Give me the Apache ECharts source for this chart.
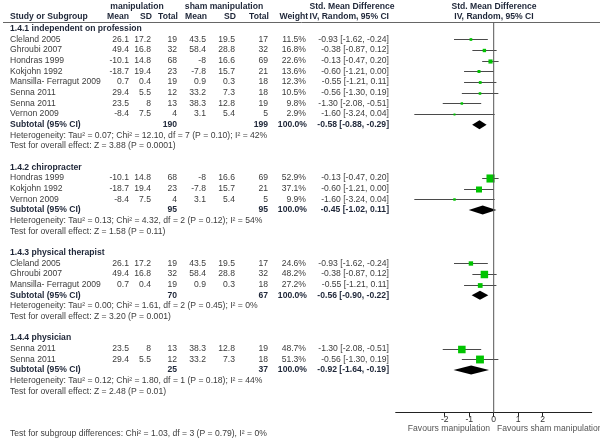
<!DOCTYPE html>
<html><head><meta charset="utf-8">
<script src="https://cdn.jsdelivr.net/npm/echarts@6/dist/echarts.min.js"></script>
<style>html,body{margin:0;padding:0;background:#fff}#c{width:600px;height:444px}</style>
</head><body><div id="c"></div><script>
// ---------------- data ----------------
const sections = ["1.4.1 independent on profession", "1.4.2 chiropracter", "1.4.3 physical therapist", "1.4.4 physician"];
const studyNames = ["Cleland 2005","Ghroubi 2007","Hondras 1999","Kokjohn 1992","Mansilla- Ferragut 2009","Senna 2011","Senna 2011","Vernon 2009",
                    "Hondras 1999","Kokjohn 1992","Vernon 2009",
                    "Cleland 2005","Ghroubi 2007","Mansilla- Ferragut 2009",
                    "Senna 2011","Senna 2011"];
const studySection = [0,0,0,0,0,0,0,0,1,1,1,2,2,2,3,3];
const manipMean = [26.1,49.4,-10.1,-18.7,0.7,29.4,23.5,-8.4,-10.1,-18.7,-8.4,26.1,49.4,0.7,23.5,29.4];
const manipSD   = [17.2,16.8,14.8,19.4,0.4,5.5,8,7.5,14.8,19.4,7.5,17.2,16.8,0.4,8,5.5];
const manipN    = [19,32,68,23,19,12,13,4,68,23,4,19,32,19,13,12];
const shamMean  = [43.5,58.4,-8,-7.8,0.9,33.2,38.3,3.1,-8,-7.8,3.1,43.5,58.4,0.9,38.3,33.2];
const shamSD    = [19.5,28.8,16.6,15.7,0.3,7.3,12.8,5.4,16.6,15.7,5.4,19.5,28.8,0.3,12.8,7.3];
const shamN     = [17,32,69,21,18,18,19,5,69,21,5,17,32,18,19,18];
const weight    = [11.5,16.8,22.6,13.6,12.3,10.5,9.8,2.9,52.9,37.1,9.9,24.6,48.2,27.2,48.7,51.3];
const smd       = [-0.93,-0.38,-0.13,-0.60,-0.55,-0.56,-1.30,-1.60,-0.13,-0.60,-1.60,-0.93,-0.38,-0.55,-1.30,-0.56];
const ciLow     = [-1.62,-0.87,-0.47,-1.21,-1.21,-1.30,-2.08,-3.24,-0.47,-1.21,-3.24,-1.62,-0.87,-1.21,-2.08,-1.30];
const ciHigh    = [-0.24,0.12,0.20,0.00,0.11,0.19,-0.51,0.04,0.20,0.00,0.04,-0.24,0.12,0.11,-0.51,0.19];

const subManipN = [190,95,70,25];
const subShamN  = [199,95,67,37];
const subSmd    = [-0.58,-0.45,-0.56,-0.92];
const subLow    = [-0.88,-1.02,-0.90,-1.64];
const subHigh   = [-0.29,0.11,-0.22,-0.19];
const hetTau2   = [0.07,0.13,0.00,0.12];
const hetChi2   = [12.10,4.32,1.61,1.80];
const hetDf     = [7,2,2,1];
const hetP      = [0.10,0.12,0.45,0.18];
const hetI2     = [42,54,0,44];
const testZ     = [3.88,1.58,3.20,2.48];
const testP     = ["0.0001","0.11","0.001","0.01"];
const subgroupTest = {chi2: 1.03, df: 3, p: 0.79, i2: 0};
const tickValues = [-2,-1,0,1,2];

// ---------------- layout ----------------
const ROW0 = 28.6, PITCH = 10.67;
const YMIN = -ROW0 / PITCH;
const FONT = "Liberation Sans, Arial, sans-serif";
const FS = 8.6;
const C_TXT = '#3c3c3c', C_BOLD = '#1e2638';

// compute row indices
const secRows = [], studyRows = [], subRows = [];
let row = 0, k = 0;
for (let s = 0; s < sections.length; s++) {
  secRows.push(row); row++;
  while (k < studySection.length && studySection[k] === s) { studyRows.push(row); row++; k++; }
  subRows.push(row); row += 4;
}
const lastSub = subRows[subRows.length - 1];
const AXIS_ROW = lastSub + 4;
const SUBTEST_ROW = lastSub + 6;
const HEAD1_ROW = -2.05, HEAD2_ROW = -1.1, HLINE_ROW = -0.55;

const COL = {name:10, mMean:129, mSD:151, mN:177, sMean:206, sSD:235, sN:268, w:306, ci:389};

const texts = [];
function T(x, r, text, align, bold, color) {
  texts.push({x, r, text, align: align || 'right', bold: !!bold, color: color || (bold ? C_BOLD : C_TXT)});
}
// headers
T(137, HEAD1_ROW, 'manipulation', 'center', true);
T(224, HEAD1_ROW, 'sham manipulation', 'center', true);
T(352, HEAD1_ROW, 'Std. Mean Difference', 'center', true);
T(494, HEAD1_ROW, 'Std. Mean Difference', 'center', true);
T(COL.name, HEAD2_ROW, 'Study or Subgroup', 'left', true);
T(COL.mMean, HEAD2_ROW, 'Mean', 'right', true);
T(COL.mSD + 1, HEAD2_ROW, 'SD', 'right', true);
T(COL.mN + 1, HEAD2_ROW, 'Total', 'right', true);
T(COL.sMean + 1, HEAD2_ROW, 'Mean', 'right', true);
T(COL.sSD + 1, HEAD2_ROW, 'SD', 'right', true);
T(COL.sN + 1, HEAD2_ROW, 'Total', 'right', true);
T(COL.w + 2, HEAD2_ROW, 'Weight', 'right', true);
T(COL.ci, HEAD2_ROW, 'IV, Random, 95% CI', 'right', true);
T(494, HEAD2_ROW, 'IV, Random, 95% CI', 'center', true);

const fmtCI = (m, l, h) => m.toFixed(2) + ' [' + l.toFixed(2) + ', ' + h.toFixed(2) + ']';
for (let s = 0; s < sections.length; s++) {
  T(COL.name, secRows[s], sections[s], 'left', true);
  const sr = subRows[s];
  T(COL.name, sr, 'Subtotal (95% CI)', 'left', true);
  T(COL.mN, sr, String(subManipN[s]), 'right', true);
  T(COL.sN, sr, String(subShamN[s]), 'right', true);
  T(COL.w + 1, sr, '100.0%', 'right', true);
  T(COL.ci, sr, fmtCI(subSmd[s], subLow[s], subHigh[s]), 'right', true);
  T(COL.name, sr + 1, 'Heterogeneity: Tau\u00b2 = ' + hetTau2[s].toFixed(2) + '; Chi\u00b2 = ' + hetChi2[s].toFixed(2) +
    ', df = ' + hetDf[s] + ' (P = ' + hetP[s].toFixed(2) + '); I\u00b2 = ' + hetI2[s] + '%', 'left');
  T(COL.name, sr + 2, 'Test for overall effect: Z = ' + testZ[s].toFixed(2) + ' (P = ' + testP[s] + ')', 'left');
}
for (let i = 0; i < studyNames.length; i++) {
  const r = studyRows[i];
  T(COL.name, r, studyNames[i], 'left');
  T(COL.mMean, r, String(manipMean[i]));
  T(COL.mSD, r, String(manipSD[i]));
  T(COL.mN, r, String(manipN[i]));
  T(COL.sMean, r, String(shamMean[i]));
  T(COL.sSD, r, String(shamSD[i]));
  T(COL.sN, r, String(shamN[i]));
  T(COL.w, r, weight[i].toFixed(1) + '%');
  T(COL.ci, r, fmtCI(smd[i], ciLow[i], ciHigh[i]));
}
T(COL.name, SUBTEST_ROW, 'Test for subgroup differences: Chi\u00b2 = ' + subgroupTest.chi2.toFixed(2) + ', df = ' + subgroupTest.df +
  ' (P = ' + subgroupTest.p.toFixed(2) + '), I\u00b2 = ' + subgroupTest.i2 + '%', 'left');

const FOREST_LEFT = 395.7, FOREST_W = 196;
const forestH = ROW0 + AXIS_ROW * PITCH;

const chart = echarts.init(document.getElementById('c'), null, {renderer: 'canvas'});
chart.setOption({
  animation: false,
  backgroundColor: '#fff',
  grid: [
    {left: 0, top: 0, width: 600, height: 444},
    {left: FOREST_LEFT, top: 0, width: FOREST_W, height: forestH}
  ],
  xAxis: [
    {gridIndex: 0, type: 'value', min: 0, max: 600, show: false},
    {gridIndex: 1, type: 'value', min: -4, max: 4, interval: 1,
     splitLine: {show: false},
     axisLine: {show: true, onZero: false, lineStyle: {color: '#222', width: 1}},
     axisTick: {show: true, customValues: tickValues, length: 4, lineStyle: {color: '#222'}},
     axisLabel: {show: true, customValues: tickValues, margin: 2, color: '#333', fontSize: FS, fontFamily: FONT}}
  ],
  yAxis: [
    {gridIndex: 0, type: 'value', inverse: true, min: YMIN, max: (444 - ROW0) / PITCH, show: false},
    {gridIndex: 1, type: 'value', inverse: true, min: YMIN, max: AXIS_ROW, show: false}
  ],
  graphic: [
    {type: 'line', shape: {x1: 3, y1: 22.5, x2: 600, y2: 22.5}, style: {stroke: '#666', lineWidth: 1}, silent: true},
    {type: 'text', x: 490, y: 429, style: {text: 'Favours manipulation', align: 'right', verticalAlign: 'middle', fill: '#555', font: FS + 'px ' + FONT}},
    {type: 'text', x: 497, y: 429, style: {text: 'Favours sham manipulation', align: 'left', verticalAlign: 'middle', fill: '#555', font: FS + 'px ' + FONT}}
  ],
  series: [
    { // table text
      type: 'custom', xAxisIndex: 0, yAxisIndex: 0, silent: true,
      data: texts.map(t => [t.x, t.r]),
      encode: {x: 0, y: 1},
      renderItem(params, api) {
        const t = texts[params.dataIndex];
        const p = api.coord([api.value(0), api.value(1)]);
        return {type: 'text', x: p[0], y: p[1], style: {
          text: t.text, align: t.align, verticalAlign: 'middle', fill: t.color,
          font: (t.bold ? 'bold ' : '') + FS + 'px ' + FONT}};
      }
    },
    { // null line
      type: 'line', xAxisIndex: 1, yAxisIndex: 1, silent: true, symbol: 'none',
      data: [[0, HLINE_ROW], [0, AXIS_ROW]],
      lineStyle: {color: '#555', width: 1}
    },
    { // study CIs and squares
      type: 'custom', xAxisIndex: 1, yAxisIndex: 1, silent: true,
      data: smd.map((m, i) => [m, studyRows[i], ciLow[i], ciHigh[i], weight[i]]),
      encode: {x: 0, y: 1},
      renderItem(params, api) {
        const c = api.coord([api.value(0), api.value(1)]);
        const l = api.coord([api.value(2), api.value(1)]);
        const h = api.coord([api.value(3), api.value(1)]);
        const s = Math.max(2, 1.2 + 0.13 * api.value(4));
        const y = Math.round(c[1]) + 0.5;
        return {type: 'group', children: [
          {type: 'line', shape: {x1: l[0], y1: y, x2: h[0], y2: y}, style: {stroke: '#4a4a4a', lineWidth: 1}},
          {type: 'rect', shape: {x: c[0] - s / 2, y: y - s / 2, width: s, height: s}, style: {fill: '#00c400'}}
        ]};
      }
    },
    { // subtotal diamonds
      type: 'custom', xAxisIndex: 1, yAxisIndex: 1, silent: true,
      data: subSmd.map((m, i) => [m, subRows[i], subLow[i], subHigh[i]]),
      encode: {x: 0, y: 1},
      renderItem(params, api) {
        const c = api.coord([api.value(0), api.value(1)]);
        const l = api.coord([api.value(2), api.value(1)]);
        const h = api.coord([api.value(3), api.value(1)]);
        const hh = 4.5;
        return {type: 'polygon', shape: {points: [[l[0], c[1]], [c[0], c[1] - hh], [h[0], c[1]], [c[0], c[1] + hh]]},
          style: {fill: '#000'}};
      }
    }
  ]
});
</script></body></html>
